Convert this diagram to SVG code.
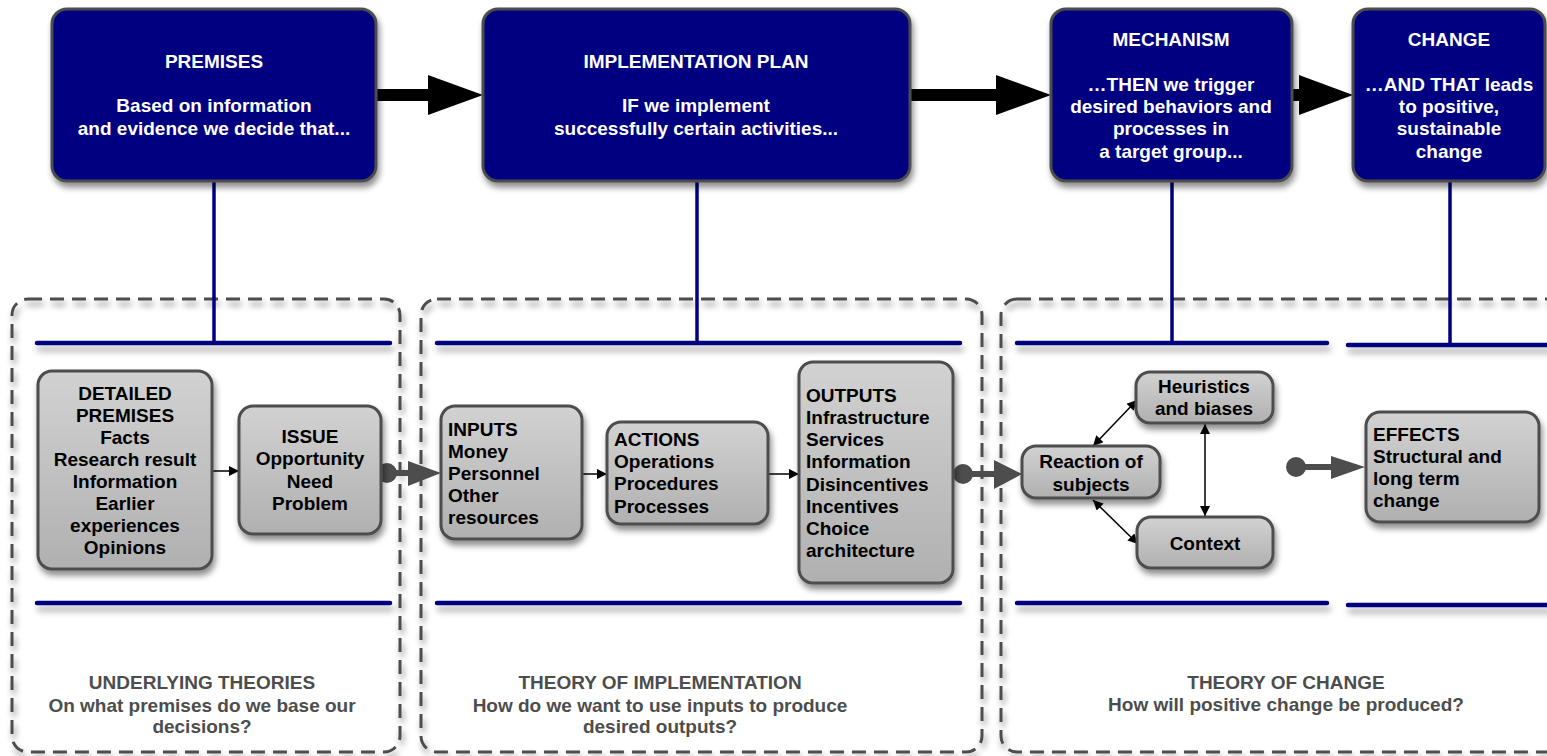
<svg xmlns="http://www.w3.org/2000/svg" width="1547" height="756" viewBox="0 0 1547 756">
<defs>
<filter id="sh" x="-20%" y="-20%" width="140%" height="150%">
<feDropShadow dx="2" dy="5" stdDeviation="3" flood-color="#000" flood-opacity="0.45"/>
</filter>
<filter id="lsh" filterUnits="userSpaceOnUse" x="0" y="0" width="1600" height="756">
<feDropShadow dx="2" dy="6" stdDeviation="3" flood-color="#000" flood-opacity="0.35"/>
</filter>
<linearGradient id="gg" x1="0" y1="0" x2="0" y2="1">
<stop offset="0" stop-color="#d2d2d2"/>
<stop offset="1" stop-color="#b0b0b0"/>
</linearGradient>
<marker id="sa" viewBox="0 0 10 10" refX="10" refY="5" markerWidth="12" markerHeight="10" markerUnits="userSpaceOnUse" orient="auto-start-reverse">
<path d="M0,0 L10,5 L0,10 Z" fill="#000"/>
</marker>
</defs>
<style>
.top{fill:#000080;stroke:#4d4d4d;stroke-width:3;filter:url(#sh)}
.tt{font-family:"Liberation Sans",Arial,sans-serif;font-weight:bold;font-size:19px;fill:#fff;text-anchor:middle}
.gb{fill:url(#gg);stroke:#4d4d4d;stroke-width:3;filter:url(#sh)}
.gt{font-family:"Liberation Sans",Arial,sans-serif;font-weight:bold;font-size:19px;fill:#000}
.c{text-anchor:middle}
.dash{fill:none;stroke:#4d4d4d;stroke-width:3;stroke-dasharray:14 8;filter:url(#sh)}
.nv{stroke:#000080;stroke-width:3.5;fill:none}
.nh{stroke:#000080;stroke-width:4.5;stroke-linecap:round;fill:none}
.bt{font-family:"Liberation Sans",Arial,sans-serif;font-weight:bold;font-size:19px;fill:#4d4d4d;text-anchor:middle}
.thin{stroke:#000;stroke-width:1.5;fill:none}
.gc{fill:#4d4d4d}
.gl{stroke:#4d4d4d;stroke-width:6}
</style>

<!-- dashed section frames -->
<g id="frames">
<rect class="dash" x="12" y="299" width="388" height="453" rx="16"/>
<rect class="dash" x="421" y="299" width="561" height="453" rx="16"/>
<rect class="dash" x="1001" y="299" width="580" height="453" rx="16"/>
</g>

<!-- navy bracket lines -->
<g id="brackets">
<line class="nv" x1="214" y1="180" x2="214" y2="343"/>
<line class="nv" x1="697" y1="180" x2="697" y2="343"/>
<line class="nv" x1="1172" y1="180" x2="1172" y2="343"/>
<line class="nv" x1="1450" y1="180" x2="1450" y2="345"/>
<g filter="url(#lsh)">
<line class="nh" x1="37" y1="343" x2="390" y2="343"/>
<line class="nh" x1="437" y1="343" x2="960" y2="343"/>
<line class="nh" x1="1017" y1="343" x2="1327" y2="343"/>
<line class="nh" x1="1348" y1="345" x2="1550" y2="345"/>
<line class="nh" x1="37" y1="603" x2="390" y2="603"/>
<line class="nh" x1="437" y1="603" x2="960" y2="603"/>
<line class="nh" x1="1017" y1="603" x2="1327" y2="603"/>
<line class="nh" x1="1348" y1="605" x2="1550" y2="605"/>
</g>
</g>

<!-- connectors -->
<g id="connectors">
<line x1="374" y1="95" x2="432" y2="95" stroke="#000" stroke-width="12" stroke-linecap="round"/>
<path d="M428,75 L483,95 L428,115 Z" fill="#000"/>
<line x1="909" y1="95" x2="1000" y2="95" stroke="#000" stroke-width="12" stroke-linecap="round"/>
<path d="M996,75 L1051,95 L996,115 Z" fill="#000"/>
<line x1="1291" y1="95" x2="1303" y2="95" stroke="#000" stroke-width="12" stroke-linecap="round"/>
<path d="M1299,75 L1353,95 L1299,115 Z" fill="#000"/>
<line class="thin" x1="212" y1="471" x2="239" y2="471" marker-end="url(#sa)"/>
<line class="thin" x1="582" y1="474" x2="607" y2="474" marker-end="url(#sa)"/>
<line class="thin" x1="768" y1="474" x2="799" y2="474" marker-end="url(#sa)"/>
<line class="thin" x1="1093" y1="446" x2="1137" y2="400" marker-start="url(#sa)" marker-end="url(#sa)"/>
<line class="thin" x1="1093" y1="500" x2="1138" y2="544" marker-start="url(#sa)" marker-end="url(#sa)"/>
<line class="thin" x1="1205" y1="424" x2="1205" y2="516" marker-start="url(#sa)" marker-end="url(#sa)"/>
<circle class="gc" cx="387" cy="473" r="10"/>
<line class="gl" x1="387" y1="473" x2="412" y2="473"/>
<path class="gc" d="M408,461 L441,473 L408,486 Z"/>
<circle class="gc" cx="963" cy="474" r="10"/>
<line class="gl" x1="963" y1="474" x2="998" y2="474"/>
<path class="gc" d="M994,460 L1022,474 L994,489 Z"/>
<circle class="gc" cx="1296" cy="467" r="10"/>
<line class="gl" x1="1296" y1="467" x2="1335" y2="467"/>
<path class="gc" d="M1331,456 L1365,467 L1331,479 Z"/>
</g>

<!-- top nodes -->
<g id="premises">
<rect class="top" x="52" y="9" width="324" height="172" rx="15"/>
<text class="tt" x="214" y="68">PREMISES</text>
<text class="tt" x="214" y="112">Based on information</text>
<text class="tt" x="214" y="135">and evidence we decide that...</text>
</g>
<g id="implementation">
<rect class="top" x="483" y="9" width="427" height="172" rx="15"/>
<text class="tt" x="696" y="68">IMPLEMENTATION PLAN</text>
<text class="tt" x="696" y="112">IF we implement</text>
<text class="tt" x="696" y="135">successfully certain activities...</text>
</g>
<g id="mechanism">
<rect class="top" x="1051" y="9" width="241" height="172" rx="15"/>
<text class="tt" x="1171" y="46">MECHANISM</text>
<text class="tt" x="1171" y="91">…THEN we trigger</text>
<text class="tt" x="1171" y="113">desired behaviors and</text>
<text class="tt" x="1171" y="135">processes in</text>
<text class="tt" x="1171" y="158">a target group...</text>
</g>
<g id="change">
<rect class="top" x="1353" y="9" width="192" height="172" rx="15"/>
<text class="tt" x="1449" y="46">CHANGE</text>
<text class="tt" x="1449" y="91">…AND THAT leads</text>
<text class="tt" x="1449" y="113">to positive,</text>
<text class="tt" x="1449" y="135">sustainable</text>
<text class="tt" x="1449" y="158">change</text>
</g>

<!-- gray nodes -->
<g id="detailed">
<rect class="gb" x="38" y="371" width="174" height="198" rx="14"/>
<text class="gt c" x="125" y="400">DETAILED</text>
<text class="gt c" x="125" y="422">PREMISES</text>
<text class="gt c" x="125" y="444">Facts</text>
<text class="gt c" x="125" y="466">Research result</text>
<text class="gt c" x="125" y="488">Information</text>
<text class="gt c" x="125" y="510">Earlier</text>
<text class="gt c" x="125" y="532">experiences</text>
<text class="gt c" x="125" y="554">Opinions</text>
</g>
<g id="issue">
<rect class="gb" x="239" y="406" width="142" height="128" rx="14"/>
<text class="gt c" x="310" y="443">ISSUE</text>
<text class="gt c" x="310" y="465">Opportunity</text>
<text class="gt c" x="310" y="488">Need</text>
<text class="gt c" x="310" y="510">Problem</text>
</g>
<g id="inputs">
<rect class="gb" x="441" y="406" width="141" height="133" rx="14"/>
<text class="gt" x="448" y="436">INPUTS</text>
<text class="gt" x="448" y="458">Money</text>
<text class="gt" x="448" y="480">Personnel</text>
<text class="gt" x="448" y="502">Other</text>
<text class="gt" x="448" y="524">resources</text>
</g>
<g id="actions">
<rect class="gb" x="607" y="422" width="161" height="102" rx="14"/>
<text class="gt" x="614" y="446">ACTIONS</text>
<text class="gt" x="614" y="468">Operations</text>
<text class="gt" x="614" y="490">Procedures</text>
<text class="gt" x="614" y="513">Processes</text>
</g>
<g id="outputs">
<rect class="gb" x="799" y="362" width="154" height="221" rx="14"/>
<text class="gt" x="806" y="402">OUTPUTS</text>
<text class="gt" x="806" y="424">Infrastructure</text>
<text class="gt" x="806" y="446">Services</text>
<text class="gt" x="806" y="468">Information</text>
<text class="gt" x="806" y="491">Disincentives</text>
<text class="gt" x="806" y="513">Incentives</text>
<text class="gt" x="806" y="535">Choice</text>
<text class="gt" x="806" y="557">architecture</text>
</g>
<g id="reaction">
<rect class="gb" x="1022" y="446" width="138" height="52" rx="14"/>
<text class="gt c" x="1091" y="468">Reaction of</text>
<text class="gt c" x="1091" y="491">subjects</text>
</g>
<g id="heuristics">
<rect class="gb" x="1136" y="372" width="137" height="51" rx="14"/>
<text class="gt c" x="1204" y="393">Heuristics</text>
<text class="gt c" x="1204" y="415">and biases</text>
</g>
<g id="context">
<rect class="gb" x="1137" y="517" width="136" height="51" rx="14"/>
<text class="gt c" x="1205" y="550">Context</text>
</g>
<g id="effects">
<rect class="gb" x="1366" y="412" width="173" height="110" rx="14"/>
<text class="gt" x="1373" y="441">EFFECTS</text>
<text class="gt" x="1373" y="463">Structural and</text>
<text class="gt" x="1373" y="485">long term</text>
<text class="gt" x="1373" y="507">change</text>
</g>

<!-- section labels -->
<g id="labels">
<text class="bt" x="202" y="689">UNDERLYING THEORIES</text>
<text class="bt" x="202" y="712">On what premises do we base our</text>
<text class="bt" x="202" y="733">decisions?</text>
<text class="bt" x="660" y="689">THEORY OF IMPLEMENTATION</text>
<text class="bt" x="660" y="712">How do we want to use inputs to produce</text>
<text class="bt" x="660" y="733">desired outputs?</text>
<text class="bt" x="1286" y="689">THEORY OF CHANGE</text>
<text class="bt" x="1286" y="711">How will positive change be produced?</text>
</g>
</svg>
